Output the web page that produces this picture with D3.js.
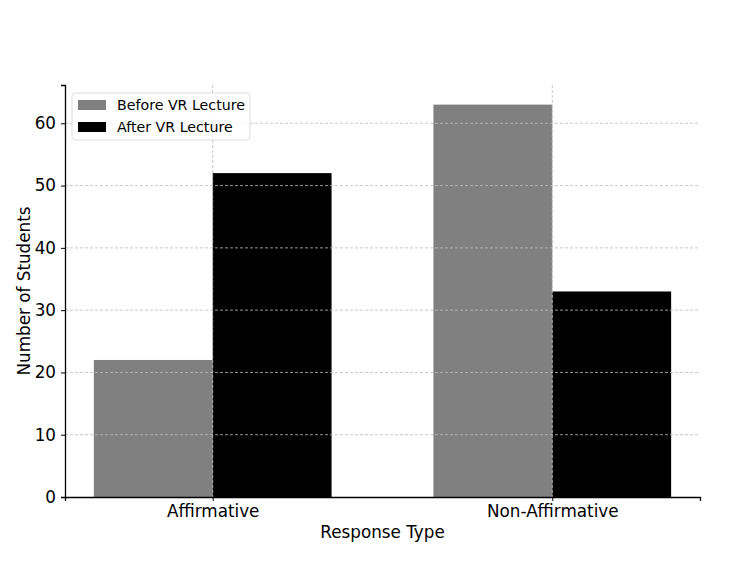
<!DOCTYPE html>
<html>
<head>
<meta charset="utf-8">
<script src="https://cdn.jsdelivr.net/npm/d3@7"></script>
<style>
  body { margin: 0; background: #fff; }
  text { font-family: "DejaVu Sans", sans-serif; }
</style>
</head>
<body>
<div id="chart"></div>
<script>
// data
var categories = ["Affirmative", "Non-Affirmative"];
var seriesNames = ["Before VR Lecture", "After VR Lecture"];
var beforeValues = [22, 63];
var afterValues = [52, 33];
var yTicks = [0, 10, 20, 30, 40, 50, 60];
var colors = ["#808080", "#000000"];

var margin = {top: 85, right: 50, bottom: 66, left: 65},
    width = 750 - margin.left - margin.right,
    height = 563 - margin.top - margin.bottom;

var svg = d3.select("#chart")
  .append("svg")
    .attr("width", 750)
    .attr("height", 563)
  .append("g")
    .attr("transform", "translate(" + margin.left + "," + margin.top + ")");

var barW = 0.35;
var x = d3.scaleLinear()
  .domain([-0.435, 1.435])
  .range([0, width]);

var y = d3.scaleLinear()
  .domain([0, 66.15])
  .range([height, 0]);

var rows = categories.map(function(c, i) {
  return {cat: c, i: i, vals: [beforeValues[i], afterValues[i]]};
});

// bars
rows.forEach(function(r) {
  r.vals.forEach(function(v, s) {
    var x0 = s === 0 ? r.i - barW : r.i;
    svg.append("rect")
      .attr("x", x(x0))
      .attr("y", y(v))
      .attr("width", x(x0 + barW) - x(x0))
      .attr("height", y(0) - y(v))
      .attr("fill", colors[s]);
  });
});

// grid on top of bars
svg.append("g").selectAll("line.h")
  .data(yTicks.slice(1))
  .enter().append("line")
    .attr("x1", 0).attr("x2", width)
    .attr("y1", function(d) { return y(d); })
    .attr("y2", function(d) { return y(d); })
    .attr("stroke", "#bbb")
    .attr("stroke-width", 0.8)
    .attr("stroke-dasharray", "3,2");

svg.append("g").selectAll("line.v")
  .data(categories.map(function(c, i) { return i; }))
  .enter().append("line")
    .attr("x1", function(d) { return x(d); })
    .attr("x2", function(d) { return x(d); })
    .attr("y1", 0).attr("y2", height)
    .attr("stroke", "#bbb")
    .attr("stroke-width", 0.8)
    .attr("stroke-dasharray", "3,2");

// axes
var yAxis = svg.append("g")
  .call(d3.axisLeft(y).tickValues(yTicks).tickSize(4).tickPadding(5));
var xAxis = svg.append("g")
  .attr("transform", "translate(0," + height + ")")
  .call(d3.axisBottom(x).tickValues([0, 1]).tickSize(4).tickPadding(4)
    .tickFormat(function(d) { return categories[d]; }));

[yAxis, xAxis].forEach(function(a) {
  a.selectAll("text").style("font-size", "16.8px").attr("fill", "#000");
  a.select(".domain").attr("stroke", "#000").attr("stroke-width", 1.3);
  a.selectAll(".tick line").attr("stroke", "#000");
});

// axis titles
svg.append("text")
  .attr("x", width / 2)
  .attr("y", height + 41)
  .attr("text-anchor", "middle")
  .style("font-size", "16.8px")
  .text("Response Type");

svg.append("text")
  .attr("transform", "translate(" + (-35) + "," + (height / 2) + ") rotate(-90)")
  .attr("text-anchor", "middle")
  .style("font-size", "16.8px")
  .text("Number of Students");

// legend
var legend = svg.append("g").attr("transform", "translate(7,8)");
legend.append("rect")
  .attr("width", 178).attr("height", 47)
  .attr("rx", 3)
  .attr("fill", "#fff").attr("fill-opacity", 0.8)
  .attr("stroke", "#ddd");
seriesNames.forEach(function(n, i) {
  legend.append("rect")
    .attr("x", 6).attr("y", 7 + i * 22)
    .attr("width", 28).attr("height", 10)
    .attr("fill", colors[i]);
  legend.append("text")
    .attr("x", 45).attr("y", 17 + i * 22)
    .style("font-size", "14.2px")
    .text(n);
});
</script>
</body>
</html>
